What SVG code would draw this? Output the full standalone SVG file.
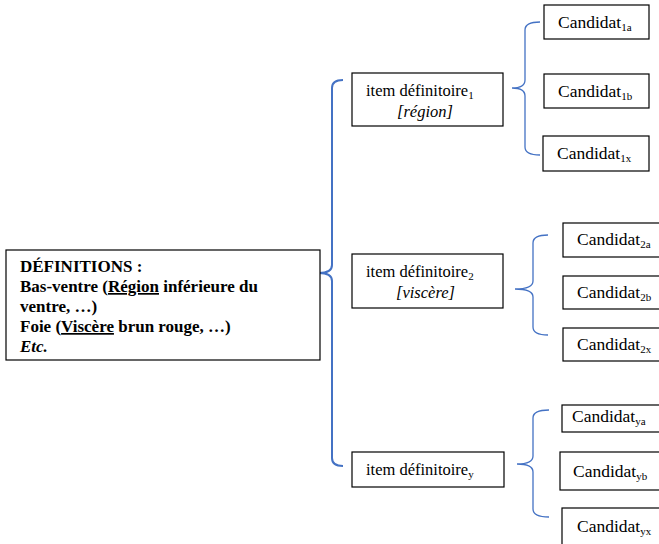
<svg xmlns="http://www.w3.org/2000/svg" width="659" height="544" viewBox="0 0 659 544">
<style>
.box{fill:#fff;stroke:#000;stroke-width:1.2}
text{font-family:'Liberation Serif','Tinos','DejaVu Serif',serif;fill:#000}
.def{font-size:17px;font-weight:bold}
.it{font-size:16.5px}
.cand{font-size:17.5px}
.sub{font-size:11px}
.br{fill:none;stroke:#4472C4;stroke-width:1.3}
.brm{fill:none;stroke:#4472C4;stroke-width:2}
</style>
<rect width="659" height="544" fill="#fff"/>
<g id="connectors">
<path class="brm" d="M343,80 Q332,80 332,88 L332,265 Q332,273 319,273 Q332,273 332,281 L332,458 Q332,466 343,466"/>
<path class="br" d="M540,22 Q525,22 525,30 L525,80 Q525,88 512,88 Q525,88 525,96 L525,147 Q525,155 540,155"/>
<path class="br" d="M548,235 Q533,235 533,243 L533,281 Q533,289 515,289 Q533,289 533,297 L533,327 Q533,335 548,335"/>
<path class="br" d="M549,410 Q533,410 533,418 L533,456 Q533,464 517,464 Q533,464 533,472 L533,509 Q533,517 549,517"/>
</g>
<g id="definitions">
<rect class="box" x="6" y="250" width="314" height="110"/>
<text class="def" x="20" y="272">DÉFINITIONS :</text>
<text class="def" x="20" y="292">Bas-ventre (<tspan text-decoration="underline">Région</tspan> inférieure du</text>
<text class="def" x="20" y="312">ventre, …)</text>
<text class="def" x="20" y="332">Foie (<tspan text-decoration="underline">Viscère</tspan> brun rouge, …)</text>
<text class="def" x="20" y="352" font-style="italic">Etc.</text>
</g>
<g id="item1">
<rect class="box" x="352" y="73" width="151" height="53"/>
<text class="it" x="366" y="96">item définitoire<tspan class="sub" dy="3">1</tspan></text>
<text class="it" x="397" y="117" font-style="italic">[région]</text>
</g>
<g id="item2">
<rect class="box" x="352" y="254" width="151" height="54"/>
<text class="it" x="366" y="277">item définitoire<tspan class="sub" dy="3">2</tspan></text>
<text class="it" x="396" y="298" font-style="italic">[viscère]</text>
</g>
<g id="itemy">
<rect class="box" x="352" y="452" width="152" height="35"/>
<text class="it" x="366" y="475">item définitoire<tspan class="sub" dy="3">y</tspan></text>
</g>
<g id="cand1a">
<rect class="box" x="544" y="5" width="105" height="34"/>
<text class="cand" x="558" y="28">Candidat<tspan class="sub" dy="3">1a</tspan></text>
</g>
<g id="cand1b">
<rect class="box" x="544" y="74" width="105" height="34"/>
<text class="cand" x="558" y="97">Candidat<tspan class="sub" dy="3">1b</tspan></text>
</g>
<g id="cand1x">
<rect class="box" x="543" y="136" width="106" height="35"/>
<text class="cand" x="557" y="159">Candidat<tspan class="sub" dy="3">1x</tspan></text>
</g>
<g id="cand2a">
<rect class="box" x="563" y="223" width="100" height="34"/>
<text class="cand" x="577" y="245">Candidat<tspan class="sub" dy="3">2a</tspan></text>
</g>
<g id="cand2b">
<rect class="box" x="563" y="276" width="100" height="33"/>
<text class="cand" x="577" y="298">Candidat<tspan class="sub" dy="3">2b</tspan></text>
</g>
<g id="cand2x">
<rect class="box" x="563" y="328" width="100" height="33"/>
<text class="cand" x="577" y="350">Candidat<tspan class="sub" dy="3">2x</tspan></text>
</g>
<g id="candya">
<rect class="box" x="562" y="405" width="100" height="27"/>
<text class="cand" x="572" y="422">Candidat<tspan class="sub" dy="3">ya</tspan></text>
</g>
<g id="candyb">
<rect class="box" x="560" y="452" width="102" height="38"/>
<text class="cand" x="573" y="477">Candidat<tspan class="sub" dy="3">yb</tspan></text>
</g>
<g id="candyx">
<rect class="box" x="562" y="508" width="100" height="40"/>
<text class="cand" x="577" y="532">Candidat<tspan class="sub" dy="3">yx</tspan></text>
</g>
</svg>
